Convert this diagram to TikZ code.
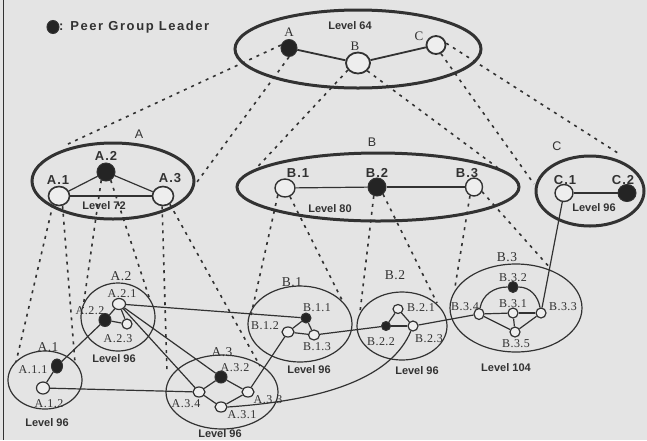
\documentclass[tikz,border=0pt]{standalone}
\usepackage{fontspec}
\setmainfont{Liberation Serif}
\setsansfont{Liberation Sans}
\newfontfamily\legendfont[LetterSpace=12]{Liberation Sans}
\newfontfamily\clfont[LetterSpace=4]{Liberation Serif}
\usetikzlibrary{shapes.geometric,backgrounds}
\definecolor{bgc}{RGB}{228,228,228}
\definecolor{ink}{RGB}{50,50,50}
\definecolor{dotc}{RGB}{36,36,36}
\definecolor{openc}{RGB}{238,238,238}
\begin{document}
\begin{tikzpicture}[x=1pt,y=-1pt,
  lvl/.style={draw=ink,line width=3pt},
  clu/.style={draw=ink,line width=1.2pt},
  opn/.style={ellipse,draw=ink,fill=openc,line width=1.2pt,inner sep=0pt},
  lead/.style={ellipse,draw=ink,fill=dotc,line width=1pt,inner sep=0pt},
  lnk/.style={draw=ink,line width=1.2pt},
  toplnk/.style={draw=ink,line width=1.8pt},
  dsh/.style={draw=ink,line width=1.6pt,dash pattern=on 3pt off 5pt},
  lvltxt/.style={font=\sffamily\bfseries\fontsize{11}{11}\selectfont,text=ink,inner sep=0pt},
  hdr/.style={font=\sffamily\bfseries\fontsize{13}{13}\selectfont,text=ink,inner sep=0pt},
  ttl/.style={font=\sffamily\fontsize{12.5}{12.5}\selectfont,text=ink,inner sep=0pt},
  toptxt/.style={font=\rmfamily\fontsize{13}{13}\selectfont,text=ink,inner sep=0pt},
  cl/.style={font=\clfont\fontsize{12}{12}\selectfont,text=ink,inner sep=0pt},
  ct/.style={font=\clfont\fontsize{13.5}{13.5}\selectfont,text=ink,inner sep=0pt}
]
\clip (0,0) rectangle (647,440);
\begin{pgfonlayer}{background}
\fill[bgc] (0,0) rectangle (647,440);
\end{pgfonlayer}
\draw[ink,line width=1pt] (3,0) -- (3,440);

% legend
\node[lead,minimum width=12pt,minimum height=13pt] (legdot) at (53,27) {};
\node[anchor=west,inner sep=0pt,text=ink,font=\legendfont\bfseries\fontsize{13}{13}\selectfont] (legtxt) at (59,27) {: Peer Group Leader};

% level ellipses
\draw[lvl] (358,49) ellipse [x radius=123, y radius=39];
\draw[lvl] (113,181) ellipse [x radius=81, y radius=38];
\draw[lvl] (378,187) ellipse [x radius=141, y radius=34];
\draw[lvl] (590,191) ellipse [x radius=54, y radius=35];

% cluster ellipses
\draw[clu] (45,380) ellipse [x radius=37, y radius=29];
\draw[clu] (118,317) ellipse [x radius=37, y radius=34];
\draw[clu] (222,392) ellipse [x radius=56, y radius=37];
\draw[clu] (300,324) ellipse [x radius=52, y radius=38];
\draw[clu] (402,326) ellipse [x radius=45, y radius=34];
\draw[clu] (516,308) ellipse [x radius=66, y radius=44];

% top level nodes
\node[lead,minimum width=16pt,minimum height=17pt] (nA) at (289,48) {};
\node[opn,minimum width=24pt,minimum height=21pt,line width=1.8pt] (nB) at (358,63) {};
\node[opn,minimum width=19pt,minimum height=18pt,line width=1.8pt] (nC) at (436,45) {};
% level 72
\node[opn,minimum width=21pt,minimum height=19pt,line width=1.6pt] (nA1) at (59,196) {};
\node[lead,minimum width=18pt,minimum height=18pt] (nA2) at (106,172) {};
\node[opn,minimum width=21pt,minimum height=19pt,line width=1.6pt] (nA3) at (163,196) {};
% level 80
\node[opn,minimum width=20pt,minimum height=18pt,line width=1.4pt] (nB1) at (285,188) {};
\node[lead,minimum width=18pt,minimum height=18pt] (nB2) at (377,187) {};
\node[opn,minimum width=17pt,minimum height=18pt,line width=1.4pt] (nB3) at (474,187) {};
% level 96 C
\node[opn,minimum width=18pt,minimum height=17pt,line width=1.4pt] (nC1) at (564,193) {};
\node[lead,minimum width=18pt,minimum height=17pt] (nC2) at (627,193) {};

% cluster nodes
\node[lead,minimum width=11pt,minimum height=14pt] (a11) at (57,366) {};
\node[opn,minimum width=13pt,minimum height=12pt] (a12) at (43,388) {};
\node[opn,minimum width=13pt,minimum height=11pt] (a21) at (119,304) {};
\node[lead,minimum width=12pt,minimum height=13pt] (a22) at (105,320) {};
\node[opn,minimum width=10pt,minimum height=10pt] (a23) at (127,324) {};
\node[lead,minimum width=12pt,minimum height=12pt] (a32) at (221,377) {};
\node[opn,minimum width=12pt,minimum height=10pt] (a34) at (199,392) {};
\node[opn,minimum width=12pt,minimum height=10pt] (a33) at (248,392) {};
\node[opn,minimum width=12pt,minimum height=10pt] (a31) at (221,407) {};
\node[lead,minimum width=10pt,minimum height=10pt] (b11) at (306,318) {};
\node[opn,minimum width=12pt,minimum height=10pt] (b12) at (288,332) {};
\node[opn,minimum width=11pt,minimum height=10pt] (b13) at (314,335) {};
\node[opn,minimum width=10pt,minimum height=9pt] (b21) at (398,309) {};
\node[lead,minimum width=9pt,minimum height=9pt] (b22) at (386,326) {};
\node[opn,minimum width=10pt,minimum height=10pt] (b23) at (413,326) {};
\node[lead,minimum width=10pt,minimum height=11pt] (b32) at (513,287) {};
\node[opn,minimum width=10pt,minimum height=11pt] (b34) at (479,314) {};
\node[opn,minimum width=10pt,minimum height=10pt] (b31) at (513,313) {};
\node[opn,minimum width=10pt,minimum height=10pt] (b33) at (541,313) {};
\node[opn,minimum width=10pt,minimum height=10pt] (b35) at (515,332) {};

% dashed end coordinates
\coordinate (dA1) at (68,144);
\coordinate (dA2) at (197,182);
\coordinate (dB1) at (250,175);
\coordinate (dB2) at (498,168);
\coordinate (dC1) at (534,184);
\coordinate (dC2) at (621,155);
\coordinate (eA1l) at (16,362);
\coordinate (eA1r) at (75,363);
\coordinate (eA2l) at (83,308);
\coordinate (eA2r) at (150,300);
\coordinate (eA3l) at (167,372);
\coordinate (eA3r) at (260,366);
\coordinate (eB1l) at (251,315);
\coordinate (eB1r) at (342,300);
\coordinate (eB2l) at (360,312);
\coordinate (eB2r) at (437,303);
\coordinate (eB3l) at (455,287);
\coordinate (eB3r) at (551,269);

\begin{pgfonlayer}{background}
% dashed projections
\draw[dsh] (nA.160) -- (dA1);
\draw[dsh] (nA.south) -- (dA2);
\draw[dsh] (nB.215) -- (dB1);
\draw[dsh] (nB.320) -- (dB2);
\draw[dsh] (nC.300) -- (dC1);
\draw[dsh] (nC.10) -- (dC2);
\draw[dsh] (nA1.235) -- (eA1l);
\draw[dsh] (nA1.290) -- (eA1r);
\draw[dsh] (nA2.240) -- (eA2l);
\draw[dsh] (nA2.300) -- (eA2r);
\draw[dsh] (nA3.265) -- (eA3l);
\draw[dsh] (nA3.310) -- (eA3r);
\draw[dsh] (nB1.225) -- (eB1l);
\draw[dsh] (nB1.300) -- (eB1r);
\draw[dsh] (nB2.250) -- (eB2l);
\draw[dsh] (nB2.310) -- (eB2r);
\draw[dsh] (nB3.245) -- (eB3l);
\draw[dsh] (nB3.330) -- (eB3r);
% top-level links
\draw[toplnk] (nA) -- (nB);
\draw[toplnk] (nB) -- (nC);
\draw[lnk] (nA1) -- (nA2);
\draw[lnk] (nA2) -- (nA3);
\draw[lnk] (nA1) -- (nA3);
\draw[lnk] (nB1) -- (nB2);
\draw[lnk] (nB2) -- (nB3);
\draw[lnk] (nC1) -- (nC2);
% cluster internal
\draw[lnk] (a11) -- (a12);
\draw[lnk] (a21) -- (a22);
\draw[lnk] (a21) -- (a23);
\draw[lnk] (a22) -- (a23);
\draw[lnk] (a34) -- (a32);
\draw[lnk] (a32) -- (a33);
\draw[lnk] (a34) -- (a31);
\draw[lnk] (a31) -- (a33);
\draw[lnk] (b11) -- (b12);
\draw[lnk] (b11) -- (b13);
\draw[lnk] (b12) -- (b13);
\draw[lnk] (b21) -- (b22);
\draw[lnk] (b21) -- (b23);
\draw[lnk] (b22) -- (b23);
\draw[lnk] (b34) -- (b31);
\draw[lnk] (b31) -- (b33);
\draw[lnk] (b34) -- (b35);
\draw[lnk] (b35) -- (b33);
\draw[lnk] (b31) -- (b35);
\draw[lnk] (b34) to[out=80,in=180] (b32) to[out=0,in=100] (b33);
% inter-cluster links
\draw[lnk] (a11) -- (a22);
\draw[lnk] (a12) -- (a34);
\draw[lnk] (a21) -- (b11);
\draw[lnk] (a21) -- (a32);
\draw[lnk] (a21) -- (a34);
\draw[lnk] (a33) -- (b12);
\draw[lnk] (b13) -- (b22);
\draw[lnk] (b23) -- (b34);
\draw[lnk] (a31.east) .. controls (330,400) and (392,376) .. (b23);
\draw[lnk] (nC1) -- (b33);
\end{pgfonlayer}

% labels, top
\node[lvltxt] (t64) at (350,26) {Level 64};
\node[toptxt] (tA) at (289,32) {A};
\node[toptxt] (tB) at (355,46) {B};
\node[toptxt] (tC) at (419,36) {C};
% level 72
\node[ttl] (hA) at (139,134) {A};
\node[hdr] (lA2) at (106,156) {A\kern1pt.\kern1pt2};
\node[hdr] (lA1) at (58,180) {A\kern1pt.\kern1pt1};
\node[hdr] (lA3) at (170,178) {A\kern1pt.\kern1pt3};
\node[lvltxt] (t72) at (104,206) {Level 72};
% level 80
\node[ttl] (hB) at (372,142) {B};
\node[hdr] (lB1) at (298,173) {B\kern1pt.\kern1pt1};
\node[hdr] (lB2) at (377,173) {B\kern1pt.\kern1pt2};
\node[hdr] (lB3) at (467,173) {B\kern1pt.\kern1pt3};
\node[lvltxt] (t80) at (330,209) {Level 80};
% level 96 C
\node[ttl] (hC) at (557,146) {C};
\node[hdr] (lC1) at (565,180) {C\kern1pt.\kern1pt1};
\node[hdr] (lC2) at (623,180) {C\kern1pt.\kern1pt2};
\node[lvltxt] (t96c) at (594,208) {Level 96};

% clusters
\node[ct] (cA1) at (48,347) {A.1};
\node[cl] (la11) at (33,370) {A.1.1};
\node[cl] (la12) at (49,404) {A.1.2};
\node[lvltxt] (tcA1) at (47,423) {Level 96};

\node[ct] (cA2) at (121,276) {A.2};
\node[cl] (la21) at (122,294) {A.2.1};
\node[cl] (la22) at (90,311) {A.2.2};
\node[cl] (la23) at (118,339) {A.2.3};
\node[lvltxt] (tcA2) at (114,359) {Level 96};

\node[ct] (cA3) at (222,352) {A.3};
\node[cl] (la32) at (235,368) {A.3.2};
\node[cl] (la34) at (186,404) {A.3.4};
\node[cl] (la33) at (268,400) {A.3.3};
\node[cl] (la31) at (242,415) {A.3.1};
\node[lvltxt] (tcA3) at (220,433.5) {Level 96};

\node[ct] (cB1) at (292,282) {B.1};
\node[cl] (lb11) at (317,308) {B.1.1};
\node[cl] (lb12) at (265,326) {B.1.2};
\node[cl] (lb13) at (317,347) {B.1.3};
\node[lvltxt] (tcB1) at (309,370) {Level 96};

\node[ct] (cB2) at (395,275) {B.2};
\node[cl] (lb21) at (421,308) {B.2.1};
\node[cl] (lb22) at (381,342) {B.2.2};
\node[cl] (lb23) at (429,339) {B.2.3};
\node[lvltxt] (tcB2) at (417,371) {Level 96};

\node[ct] (cB3) at (507,257) {B.3};
\node[cl] (lb32) at (513,278) {B.3.2};
\node[cl] (lb34) at (465,307) {B.3.4};
\node[cl] (lb31) at (513,304) {B.3.1};
\node[cl] (lb33) at (563,307) {B.3.3};
\node[cl] (lb35) at (516,344) {B.3.5};
\node[lvltxt] (tcB3) at (506,368) {Level 104};
\end{tikzpicture}
\end{document}
